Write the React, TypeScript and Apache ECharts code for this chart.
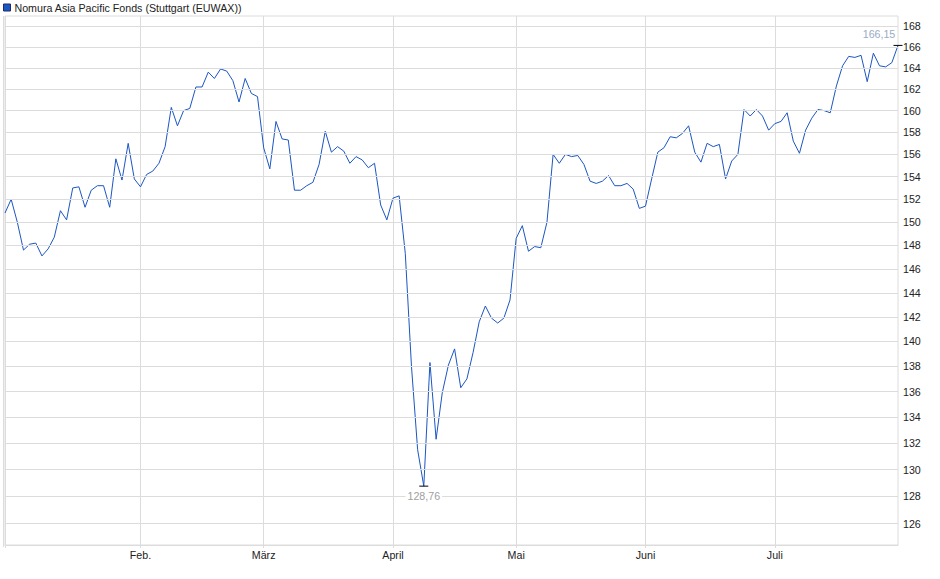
import React, { useEffect, useRef } from "react";
import * as echarts from "echarts";

// Trading days (Stuttgart), 2025
const janDays = [2, 3, 6, 7, 8, 9, 10, 13, 14, 15, 16, 17, 20, 21, 22, 23, 24, 27, 28, 29, 30, 31];
const febDays = [3, 4, 5, 6, 7, 10, 11, 12, 13, 14, 17, 18, 19, 20, 21, 24, 25, 26, 27, 28];
const marDays = [3, 4, 5, 6, 7, 10, 11, 12, 13, 14, 17, 18, 19, 20, 21, 24, 25, 26, 27, 28, 31];
const aprDays = [1, 2, 3, 4, 7, 8, 9, 10, 11, 14, 15, 16, 17, 22, 23, 24, 25, 28, 29, 30];
const mayDays = [2, 5, 6, 7, 8, 9, 12, 13, 14, 15, 16, 19, 20, 21, 22, 23, 26, 27, 28, 29, 30];
const junDays = [2, 3, 4, 5, 6, 9, 10, 11, 12, 13, 16, 17, 18, 19, 20, 23, 24, 25, 26, 27, 30];
const julDays = [1, 2, 3, 4, 7, 8, 9, 10, 11, 14, 15, 16, 17, 18, 21, 22, 23, 24, 25, 28, 29];

// Prices per month
const janValues = [150.8, 152.0, 150.0, 147.6, 148.1, 148.2, 147.1, 147.7, 148.7, 151.0, 150.2, 153.0, 153.1, 151.3, 152.8, 153.2, 153.2, 151.3, 155.6, 153.7, 157.0, 153.8];
const febValues = [153.1, 154.2, 154.5, 155.2, 156.7, 160.3, 158.6, 160.0, 160.2, 162.2, 162.2, 163.6, 163.0, 163.9, 163.7, 162.8, 160.8, 163.0, 161.6, 161.3];
const marValues = [156.6, 154.7, 159.0, 157.4, 157.3, 152.8, 152.8, 153.2, 153.5, 155.1, 158.1, 156.2, 156.7, 156.3, 155.2, 155.8, 155.5, 154.8, 155.2, 151.5, 150.2];
const aprValues = [152.1, 152.3, 147.3, 138.0, 131.5, 128.76, 138.3, 132.3, 135.9, 138.1, 139.4, 136.3, 137.0, 139.1, 141.6, 142.9, 141.9, 141.5, 141.9, 143.4];
const mayValues = [148.6, 149.7, 147.5, 147.9, 147.8, 150.0, 156.0, 155.2, 156.0, 155.8, 155.9, 155.1, 153.6, 153.4, 153.6, 154.1, 153.2, 153.2, 153.4, 152.9, 151.2];
const junValues = [151.4, 153.8, 156.2, 156.6, 157.6, 157.5, 157.9, 158.6, 156.2, 155.3, 157.0, 156.7, 156.9, 153.8, 155.4, 156.0, 160.1, 159.5, 160.1, 159.5, 158.2];
const julValues = [158.8, 159.0, 159.8, 157.2, 156.1, 158.2, 159.3, 160.1, 160.0, 159.8, 162.3, 164.2, 165.1, 165.0, 165.2, 162.7, 165.4, 164.2, 164.1, 164.5, 166.15];

const monthLabels = ["Jan.", "Feb.", "März", "April", "Mai", "Juni", "Juli"];
const yTicks = [126, 128, 130, 132, 134, 136, 138, 140, 142, 144, 146, 148, 150, 152, 154, 156, 158, 160, 162, 164, 166, 168];

const seriesName = "Nomura Asia Pacific Fonds (Stuttgart (EUWAX))";

const monthDays = [janDays, febDays, marDays, aprDays, mayDays, junDays, julDays];
const monthValues = [janValues, febValues, marValues, aprValues, mayValues, junValues, julValues];

const pad = (n: number) => (n < 10 ? "0" + n : String(n));

const categories: string[] = [];
const values: number[] = [];
const monthStart: Record<number, string> = {};
monthDays.forEach((days, m) => {
  days.forEach((d, k) => {
    if (k === 0) monthStart[categories.length] = monthLabels[m];
    categories.push(`2025-${pad(m + 1)}-${pad(d)}`);
    values.push(monthValues[m][k]);
  });
});

const FONT = "'Liberation Sans', Arial, sans-serif";
const GRID = "#dcdcdc";
const TEXT = "#222222";
const LINE = "#1c56c2";
const fmt = (v: number) => v.toFixed(2).replace(".", ",");

export default function App() {
  const ref = useRef<HTMLDivElement>(null);
  useEffect(() => {
    if (!ref.current) return;
    document.body.style.margin = "0";
    const chart = echarts.init(ref.current, undefined, { renderer: "svg" });
    const isMonthStart = (i: number) => monthStart[i] !== undefined && i > 0;
    chart.setOption({
      animation: false,
      backgroundColor: "#ffffff",
      textStyle: { fontFamily: FONT },
      legend: {
        data: [seriesName],
        left: 3,
        top: 2,
        padding: 0,
        icon: "rect",
        itemWidth: 7,
        itemHeight: 7,
        itemGap: 5,
        textStyle: { fontSize: 10.67, color: TEXT, fontFamily: FONT, padding: [0, 0, 0, -1] },
        itemStyle: { borderColor: "#1a2b66", borderWidth: 1 },
      },
      grid: {
        left: 5,
        right: 42,
        top: 16,
        bottom: 34,
        show: true,
        borderColor: GRID,
        borderWidth: 1,
        containLabel: false,
      },
      xAxis: {
        type: "category",
        data: categories,
        boundaryGap: false,
        axisLine: { show: true, lineStyle: { color: GRID } },
        axisTick: {
          show: true,
          length: 3,
          interval: (i: number) => monthStart[i] !== undefined,
          lineStyle: { color: GRID },
        },
        splitLine: {
          show: true,
          interval: (i: number) => monthStart[i] !== undefined,
          lineStyle: { color: GRID, width: 1 },
        },
        axisLabel: {
          interval: (i: number) => isMonthStart(i),
          formatter: (_v: string, i: number) => monthStart[i] || "",
          fontSize: 10.67,
          color: TEXT,
          fontFamily: FONT,
          margin: 4,
        },
      },
      yAxis: {
        type: "log",
        logBase: 10,
        position: "right",
        min: 124.45,
        max: 169.0,
        axisLine: { show: false },
        axisTick: { show: false },
        axisLabel: { show: false },
        splitLine: { show: false },
      },
      series: [
        {
          name: "grid",
          type: "line",
          data: values,
          symbol: "none",
          silent: true,
          z: 1,
          lineStyle: { width: 0, opacity: 0 },
          markLine: {
            silent: true,
            symbol: ["none", "none"],
            animation: false,
            lineStyle: { color: GRID, type: "solid", width: 1 },
            label: {
              show: true,
              position: "end",
              distance: 5,
              formatter: "{b}",
              fontSize: 10.67,
              color: TEXT,
              fontFamily: FONT,
            },
            emphasis: { disabled: true },
            data: yTicks.map((v) => ({ name: String(v), yAxis: v })),
          },
        },
        {
          name: seriesName,
          type: "line",
          data: values,
          symbol: "none",
          z: 3,
          color: LINE,
          lineStyle: { color: LINE, width: 1 },
          itemStyle: { color: LINE },
          markPoint: {
            silent: true,
            symbol: "rect",
            symbolSize: [9, 1],
            itemStyle: { color: "#000000" },
            data: [
              {
                type: "max",
                label: {
                  show: true,
                  position: "top",
                  distance: 5,
                  offset: [-19, 0],
                  formatter: (p: any) => fmt(p.value),
                  fontSize: 10.67,
                  color: "#9aabc4",
                  fontFamily: FONT,
                },
              },
              {
                type: "min",
                label: {
                  show: true,
                  position: "bottom",
                  distance: 4,
                  formatter: (p: any) => fmt(p.value),
                  fontSize: 10.67,
                  color: "#a0a0a0",
                  fontFamily: FONT,
                  backgroundColor: "#ffffff",
                  padding: [0, 2],
                },
              },
            ],
          },
        },
      ],
      graphic: [
        {
          type: "line",
          shape: { x1: 3.5, y1: 16, x2: 3.5, y2: 547 },
          style: { stroke: GRID, lineWidth: 1 },
          silent: true,
        },
      ],
    });
    return () => chart.dispose();
  }, []);
  return <div ref={ref} style={{ width: 940, height: 579 }} />;
}
